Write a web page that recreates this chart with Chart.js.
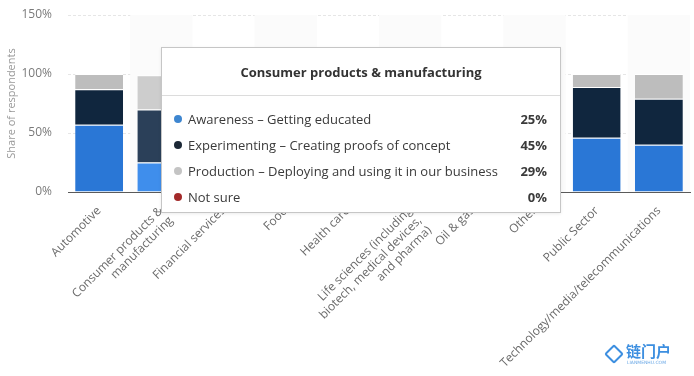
<!DOCTYPE html>
<html>
<head>
<meta charset="utf-8">
<script src="https://cdn.jsdelivr.net/npm/chart.js@4/dist/chart.umd.min.js"></script>
<style>
  html, body { margin: 0; padding: 0; background: #fff; }
  #wrap { position: relative; width: 694px; height: 376px; overflow: hidden; }
  #c { position: absolute; left: 0; top: 0; }
  #tip {
    position: absolute; display: none; box-sizing: border-box;
    width: 400px; height: 166px; background: #fff;
    border: 1px solid #c6c6c6; box-shadow: 0 1px 3px rgba(0,0,0,0.08);
    font-family: "Open Sans", sans-serif; color: #3a3a3a;
  }
  #tip .ttl { position: absolute; left: 0; right: 0; top: 0; height: 48px; line-height: 48px;
    text-align: center; font-weight: bold; font-size: 13px; color: #333; }
  #tip .sep { position: absolute; left: 0; right: 0; top: 47px; height: 0; border-top: 1px solid #dcdcdc; }
  #tip .row { position: absolute; left: 0; right: 0; height: 26px; line-height: 26px; font-size: 13px; }
  #tip .dot { position: absolute; left: 12px; top: 9px; width: 8px; height: 8px; border-radius: 50%; }
  #tip .lab { position: absolute; left: 26px; top: 0; white-space: nowrap; }
  #tip .val { position: absolute; right: 13px; top: 0; font-weight: bold; }
  #wm { position: absolute; left: 604px; top: 342px; width: 80px; height: 30px; }
  #wm .cn { position: absolute; left: 22px; top: 0; font-family: "Noto Sans CJK SC", sans-serif; font-size: 15px; line-height: 18px; color: #3d8fe0; font-weight: bold; }
  #wm .en { position: absolute; left: 23px; top: 18px; font-family: "DejaVu Sans", sans-serif; font-size: 4.5px; line-height: 6px; color: #6aa8e6; }
  #wm .ic { position: absolute; left: 3px; top: 5px; width: 10px; height: 10px; border: 2px solid #3d8fe0; transform: rotate(45deg); border-radius: 2px; }
</style>
</head>
<body>
<div id="wrap">
  <canvas id="c" width="694" height="376"></canvas>
  <div id="tip"></div>
  <div id="wm"><div class="ic"></div><div class="cn">链门户</div><div class="en">LIANMENHU.COM</div></div>
</div>
<script>
// ---- data ----
const categories = [
  ["Automotive"],
  ["Consumer products &", "manufacturing"],
  ["Financial services"],
  ["Food"],
  ["Health care"],
  ["Life sciences (including", "biotech, medical devices,", "and pharma)"],
  ["Oil & gas"],
  ["Other"],
  ["Public Sector"],
  ["Technology/media/telecommunications"]
];
const seriesNames = [
  "Awareness – Getting educated",
  "Experimenting – Creating proofs of concept",
  "Production – Deploying and using it in our business",
  "Not sure"
];
const awareness     = [57, 25, 40, 35, 45, 38, 40, 50, 46, 40];
const experimenting = [30, 45, 45, 45, 40, 42, 45, 35, 43, 39];
const production    = [13, 29, 15, 20, 15, 20, 15, 14, 11, 21];
const notSure       = [0, 0, 0, 0, 0, 0, 0, 1, 0, 0];
const yTicks = [0, 50, 100, 150];
const highlightedIndex = 1;

// ---- styles ----
const barColors   = ["#2a77d6", "#10263e", "#bdbdbd", "#a52424"];
const hoverColors = ["#3f8eec", "#2b4059", "#cdcdcd", "#b83232"];
const dotColors   = ["#3e86d0", "#1c2836", "#c4c4c4", "#a32a2a"];
const seriesValues = [awareness, experimenting, production, notSure];

const bandPlugin = {
  id: 'bands',
  beforeDatasetsDraw(chart) {
    const {ctx, chartArea, scales} = chart;
    const x = scales.x;
    const step = (x.getPixelForValue(1) - x.getPixelForValue(0));
    ctx.save();
    ctx.fillStyle = '#fbfbfb';
    for (let i = 1; i < categories.length; i += 2) {
      const cx = x.getPixelForValue(i);
      ctx.fillRect(cx - step / 2, chartArea.top, step, chartArea.bottom - chartArea.top);
    }
    ctx.restore();
  }
};

function externalTip(context) {
  const {chart, tooltip} = context;
  const el = document.getElementById('tip');
  if (!tooltip || tooltip.opacity === 0 || !tooltip.dataPoints || !tooltip.dataPoints.length) {
    el.style.display = 'none';
    return;
  }
  const idx = tooltip.dataPoints[0].dataIndex;
  let html = '<div class="ttl">' + categories[idx].join(' ').replace(/&/g, '&amp;') + '</div><div class="sep"></div>';
  seriesNames.forEach((name, i) => {
    const top = 58 + i * 26;
    html += '<div class="row" style="top:' + top + 'px"><span class="dot" style="background:' + dotColors[i] + '"></span>' +
            '<span class="lab">' + name + '</span><span class="val">' + seriesValues[i][idx] + '%</span></div>';
  });
  el.innerHTML = html;
  el.style.display = 'block';
  el.style.left = Math.round(tooltip.caretX) + 'px';
  el.style.top = Math.round(chart.chartArea.top + 32) + 'px';
}

const chart = new Chart(document.getElementById('c'), {
  type: 'bar',
  data: {
    labels: categories,
    datasets: seriesNames.map((name, i) => ({
      label: name,
      data: seriesValues[i],
      backgroundColor: barColors[i],
      hoverBackgroundColor: hoverColors[i],
      borderColor: '#ffffff',
      hoverBorderColor: '#ffffff',
      borderWidth: {top: 1, left: 0, right: 0, bottom: 0},
      borderSkipped: false,
      categoryPercentage: 0.77,
      barPercentage: 1.0
    }))
  },
  options: {
    responsive: false,
    animation: false,
    devicePixelRatio: 1,
    layout: { padding: { top: 15, right: 4, left: 0, bottom: 0 } },
    interaction: { mode: 'index', intersect: false },
    events: [],
    plugins: {
      legend: { display: false },
      tooltip: { enabled: false, mode: 'index', external: externalTip }
    },
    scales: {
      x: {
        stacked: true,
        grid: { display: false, drawTicks: false },
        border: { display: true, color: '#5a5a5a', width: 1 },
        ticks: {
          autoSkip: false, maxRotation: 45, minRotation: 45,
          color: '#6a6a6a', padding: 12,
          font: { family: 'Open Sans', size: 12, lineHeight: 1.15 }
        },
        afterFit(scale) { scale.height = 184; scale.paddingLeft = 0; scale.paddingRight = 0; }
      },
      y: {
        stacked: true, min: 0, max: 150,
        afterBuildTicks(scale) { scale.ticks = yTicks.map(v => ({value: v})); },
        grid: {
          drawTicks: false,
          color: (c) => c.tick && c.tick.value === 0 ? 'rgba(0,0,0,0)' : '#e6e6e6',
          lineWidth: 1
        },
        border: { display: false, dash: [3, 2] },
        ticks: {
          color: '#7a7a7a', padding: 16,
          font: { family: 'Open Sans', size: 12 },
          callback: (v) => v + '%'
        },
        title: {
          display: true, text: 'Share of respondents', color: '#999999',
          font: { family: 'Open Sans', size: 11 }, padding: { top: 5, bottom: 0 }
        },
        afterFit(scale) { scale.width = 68; scale.paddingTop = 0; scale.paddingBottom = 0; }
      }
    }
  },
  plugins: [bandPlugin]
});

const active = seriesNames.map((_, i) => ({ datasetIndex: i, index: highlightedIndex }));
chart.setActiveElements(active);
chart.tooltip.setActiveElements(active, { x: chart.scales.x.getPixelForValue(highlightedIndex), y: chart.chartArea.top + 40 });
chart.update();
</script>
</body>
</html>
